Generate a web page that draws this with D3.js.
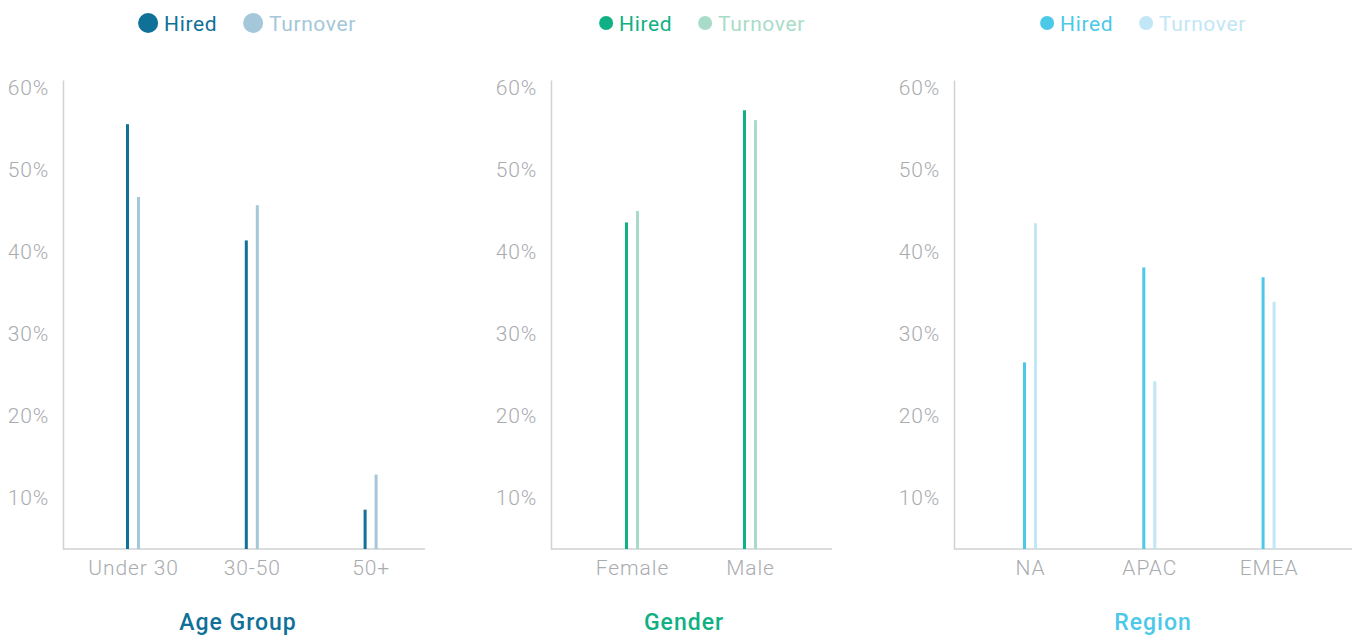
<!DOCTYPE html>
<html>
<head>
<meta charset="utf-8">
<script src="https://cdn.jsdelivr.net/npm/d3@7"></script>
<style>
  body { margin: 0; background: #fff; }
  svg text { font-family: Roboto, "Noto Sans", sans-serif; }
</style>
</head>
<body>
<div id="chart"></div>
<script>
// values (percent)
const ageCats = ["Under 30", "30-50", "50+"]
const ageHired = [55.6, 41.4, 8.5]
const ageTurnover = [46.7, 45.7, 12.8]

const genderCats = ["Female", "Male"]
const genderHired = [43.6, 57.3]
const genderTurnover = [45.0, 56.1]

const regionCats = ["NA", "APAC", "EMEA"]
const regionHired = [26.5, 38.1, 36.9]
const regionTurnover = [43.5, 24.2, 33.9]

const yTicks = [10, 20, 30, 40, 50, 60]
const seriesNames = ["Hired", "Turnover"]

// layout + colours for each little chart
const panels = [
  { title: "Age Group", cats: ageCats, hired: ageHired, turnover: ageTurnover,
    x0: 63, x1: 425, first: 70, step: 118.8, titleX: 238, legendX: 247, dot: 10,
    c1: "#0f7098", c2: "#a4c7d9" },
  { title: "Gender", cats: genderCats, hired: genderHired, turnover: genderTurnover,
    x0: 551, x1: 832, first: 81, step: 118, titleX: 684, legendX: 702, dot: 7,
    c1: "#0fb083", c2: "#a9dcc8" },
  { title: "Region", cats: regionCats, hired: regionHired, turnover: regionTurnover,
    x0: 954, x1: 1352, first: 76, step: 119.3, titleX: 1153, legendX: 1143, dot: 7,
    c1: "#4cc8e9", c2: "#c1e6f5" }
]

const width = 1353, height = 637
const plotTop = 80, plotBottom = 549

const svg = d3.select("#chart")
  .append("svg")
    .attr("width", width)
    .attr("height", height)

// same y scale for all three
const y = d3.scaleLinear()
  .domain([3.7, 61])
  .range([plotBottom, plotTop])

panels.forEach(p => {
  const g = svg.append("g")

  const x = d3.scalePoint()
    .domain(p.cats)
    .range([p.x0 + p.first, p.x0 + p.first + p.step * (p.cats.length - 1)])

  // y axis: line + labels, no tick marks
  const yAxis = g.append("g")
    .attr("transform", `translate(${p.x0},0)`)
    .call(d3.axisLeft(y).tickValues(yTicks).tickSize(0).tickPadding(14)
      .tickFormat(d => d + "%"))
  yAxis.select(".domain").attr("stroke", "#cfd1d3").attr("stroke-width", 1.5)
  yAxis.selectAll("text")
    .attr("fill", "#a9acaf")
    .attr("font-size", 21)
    .attr("font-weight", 300)
    .attr("letter-spacing", 0.8)

  // x axis
  const xAxis = g.append("g")
    .attr("transform", `translate(0,${plotBottom})`)
    .call(d3.axisBottom(x).tickSize(0).tickPadding(11))
  xAxis.select(".domain")
    .attr("d", `M${p.x0},0H${p.x1}`)
    .attr("stroke", "#cfd1d3").attr("stroke-width", 1.5)
  xAxis.selectAll("text")
    .attr("fill", "#a9acaf")
    .attr("font-size", 21)
    .attr("font-weight", 300)
    .attr("letter-spacing", 0.9)

  // bars are thin lines
  g.selectAll(".hired")
    .data(p.hired)
    .enter()
    .append("rect")
      .attr("class", "hired")
      .attr("x", (d, i) => x(p.cats[i]) - 7)
      .attr("y", d => y(d))
      .attr("width", 3)
      .attr("height", d => plotBottom - y(d))
      .attr("fill", p.c1)

  g.selectAll(".turnover")
    .data(p.turnover)
    .enter()
    .append("rect")
      .attr("class", "turnover")
      .attr("x", (d, i) => x(p.cats[i]) + 4)
      .attr("y", d => y(d))
      .attr("width", 3)
      .attr("height", d => plotBottom - y(d))
      .attr("fill", p.c2)

  // title under the chart
  g.append("text")
    .attr("x", p.titleX)
    .attr("y", 630)
    .attr("text-anchor", "middle")
    .attr("font-size", 23)
    .attr("font-weight", 500)
    .attr("letter-spacing", 1)
    .attr("fill", p.c1)
    .text(p.title)

  // legend
  const leg = g.append("g")
  const cols = [p.c1, p.c2]
  let lx = 0
  seriesNames.forEach((name, i) => {
    const it = leg.append("g").attr("transform", `translate(${lx},0)`)
    it.append("circle")
      .attr("cx", p.dot)
      .attr("cy", 23)
      .attr("r", p.dot)
      .attr("fill", cols[i])
    const t = it.append("text")
      .attr("x", p.dot * 2 + 6)
      .attr("y", 31)
      .attr("font-size", 21)
      .attr("letter-spacing", 0.6)
      .attr("fill", cols[i])
      .text(name)
    lx += p.dot * 2 + 6 + t.node().getComputedTextLength() + 26
  })
  const lw = lx - 26
  leg.attr("transform", `translate(${p.legendX - lw / 2},0)`)
})
</script>
</body>
</html>
